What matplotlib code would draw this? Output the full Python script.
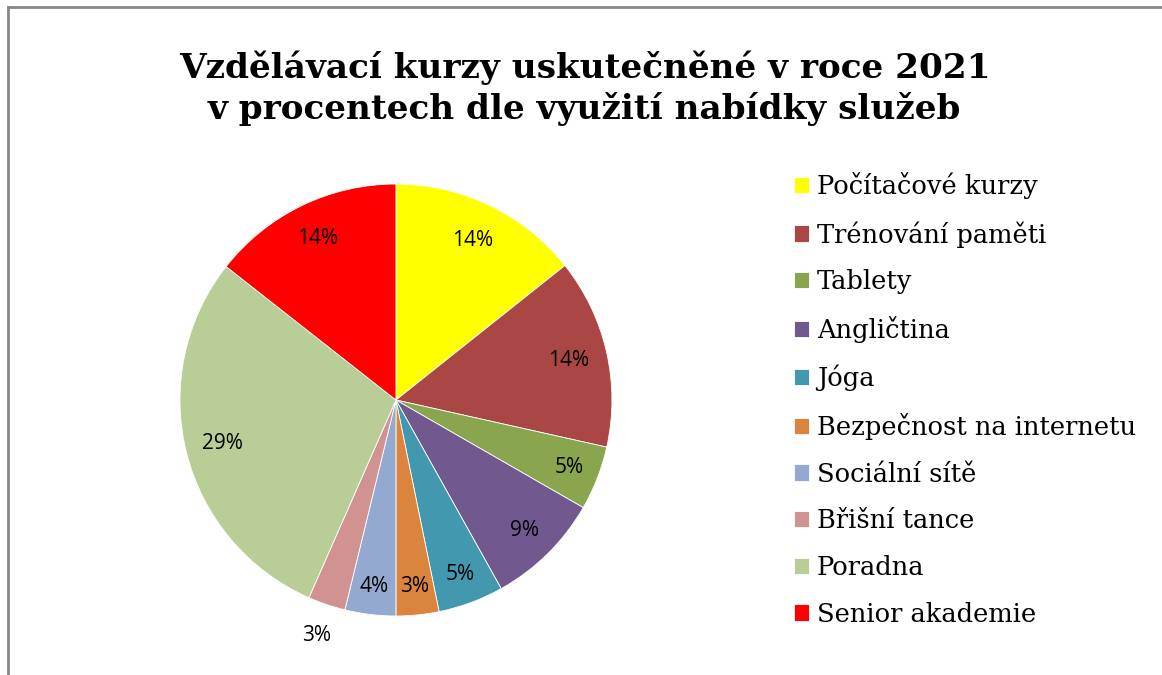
import numpy as np
import matplotlib
matplotlib.use('Agg')
from matplotlib import pyplot as plt
from matplotlib.lines import Line2D

# Data (percent share per course type)
kurzy = ['Počítačové kurzy', 'Trénování paměti', 'Tablety', 'Angličtina',
         'Jóga', 'Bezpečnost na internetu', 'Sociální sítě', 'Břišní tance',
         'Poradna', 'Senior akademie']
podil = [14.3, 14.2, 4.8, 8.6, 4.9, 3.2, 3.8, 2.8, 29.0, 14.4]
barvy = ['#FFFF00', '#AA4643', '#89A54E', '#71588F', '#4198AF',
         '#DB843D', '#93A9CF', '#D19392', '#B9CD96', '#FF0000']
# how far from centre each percent label sits (Excel "best fit" look)
vzdal = [0.82, 0.82, 0.86, 0.85, 0.86, 0.87, 0.87, 1.15, 0.83, 0.83]

fig = plt.figure(figsize=(11.62, 6.75), dpi=100)
ax = fig.add_axes([0.1084, 0.0074, 0.4647, 0.8])

wedges, texts, pcts = ax.pie(podil, colors=barvy, startangle=90,
                             counterclock=False, autopct='%1.0f%%',
                             pctdistance=0.83,
                             wedgeprops=dict(edgecolor='white', linewidth=0.6),
                             textprops=dict(fontsize=15, family='Open Sans'))
ax.set_xlim(-1.25, 1.25)
ax.set_ylim(-1.25, 1.25)
ax.set_aspect('equal')

# move labels to their own radius
for w, t, r in zip(wedges, pcts, vzdal):
    ang = np.deg2rad((w.theta1 + w.theta2) / 2)
    t.set_position((r * np.cos(ang), r * np.sin(ang)))

# title
fig.text(0.503, 0.869, 'Vzdělávací kurzy uskutečněné v roce 2021\nv procentech dle využití nabídky služeb',
         ha='center', va='center', fontsize=24.7, fontweight='bold',
         family='DejaVu Serif', linespacing=1.28)

# legend
fig.legend(wedges, kurzy, loc='upper left', bbox_to_anchor=(0.6634, 0.779),
           frameon=False, prop=dict(family='DejaVu Serif', size=18.5),
           handlelength=0.6, handleheight=0.6, handletextpad=0.3,
           labelspacing=0.845)

# grey frame on top and left
fig.add_artist(Line2D([8 / 1162, 8 / 1162], [0, 1 - 7 / 675], color='#888888', lw=2))
fig.add_artist(Line2D([8 / 1162, 1], [1 - 7 / 675, 1 - 7 / 675], color='#888888', lw=2))

plt.savefig('out.png', dpi=100)
